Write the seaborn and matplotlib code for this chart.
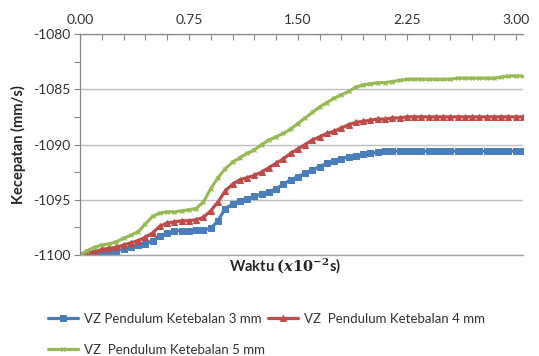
import numpy as np
import pandas as pd
import matplotlib
matplotlib.use("Agg")
import matplotlib.pyplot as plt
from matplotlib.ticker import MultipleLocator, FormatStrFormatter
import seaborn as sns

# Sample times (x10^-2 s)
waktu = np.round(np.arange(0, 3.051, 0.05), 2)

# Vertical velocity VZ (mm/s) per pendulum thickness
vz_3mm = [-1100.0, -1099.9, -1099.8, -1099.7, -1099.6, -1099.6, -1099.5, -1099.3, -1099.1, -1099.0,
          -1098.7, -1098.3, -1098.0, -1097.8, -1097.8, -1097.8, -1097.7, -1097.7, -1097.6, -1096.9,
          -1095.8, -1095.4, -1095.1, -1094.9, -1094.7, -1094.5, -1094.3, -1094.0, -1093.6, -1093.2,
          -1092.9, -1092.6, -1092.3, -1092.0, -1091.7, -1091.5, -1091.3, -1091.1, -1091.0, -1090.9,
          -1090.8, -1090.7, -1090.6, -1090.6, -1090.6, -1090.6, -1090.6, -1090.6, -1090.6, -1090.6,
          -1090.6, -1090.6, -1090.6, -1090.6, -1090.6, -1090.6, -1090.6, -1090.6, -1090.6, -1090.6,
          -1090.6, -1090.6]
vz_4mm = [-1100.0, -1099.9, -1099.7, -1099.5, -1099.4, -1099.3, -1099.1, -1098.9, -1098.7, -1098.4,
          -1098.0, -1097.4, -1097.1, -1097.0, -1096.9, -1096.9, -1096.8, -1096.6, -1096.0, -1095.2,
          -1094.2, -1093.6, -1093.2, -1093.0, -1092.8, -1092.5, -1092.1, -1091.7, -1091.3, -1090.8,
          -1090.4, -1090.0, -1089.6, -1089.3, -1089.0, -1088.8, -1088.5, -1088.2, -1088.0, -1087.9,
          -1087.8, -1087.7, -1087.7, -1087.6, -1087.6, -1087.5, -1087.5, -1087.5, -1087.5, -1087.5,
          -1087.5, -1087.5, -1087.5, -1087.5, -1087.5, -1087.5, -1087.5, -1087.5, -1087.5, -1087.5,
          -1087.5, -1087.5]
vz_5mm = [-1100.0, -1099.6, -1099.3, -1099.1, -1099.0, -1098.8, -1098.5, -1098.2, -1097.9, -1097.2,
          -1096.5, -1096.2, -1096.1, -1096.1, -1096.0, -1095.9, -1095.8, -1095.2, -1094.0, -1093.0,
          -1092.2, -1091.6, -1091.2, -1090.8, -1090.5, -1090.0, -1089.6, -1089.3, -1089.0, -1088.6,
          -1088.1, -1087.6, -1087.1, -1086.6, -1086.2, -1085.8, -1085.5, -1085.2, -1084.8, -1084.6,
          -1084.5, -1084.4, -1084.4, -1084.3, -1084.2, -1084.1, -1084.1, -1084.1, -1084.1, -1084.1,
          -1084.1, -1084.1, -1084.0, -1084.0, -1084.0, -1084.0, -1084.0, -1084.0, -1083.9, -1083.8,
          -1083.8, -1083.8]

labels = ["VZ Pendulum Ketebalan 3 mm",
          "VZ  Pendulum Ketebalan 4 mm",
          "VZ  Pendulum Ketebalan 5 mm"]
values = [vz_3mm, vz_4mm, vz_5mm]

sns.set_style("white")
plt.rcParams["font.family"] = ["Lato", "DejaVu Sans"]
plt.rcParams["mathtext.fontset"] = "custom"
plt.rcParams["mathtext.rm"] = "DejaVu Serif:bold"
plt.rcParams["mathtext.it"] = "DejaVu Serif:italic:bold"

fig = plt.figure(figsize=(5.39, 3.56), dpi=100)
ax = fig.add_axes([80 / 539, 1 - 255 / 356, 443 / 539, 221 / 356])

styles = [
    dict(color="#4a7ebb", marker="s", markersize=4.2),
    dict(color="#be4b48", marker="^", markersize=3.8),
    dict(color="#98b954", marker="x", markersize=3.4, markeredgewidth=1.0),
]
for lab, v, st in zip(labels, values, styles):
    df = pd.DataFrame({"waktu": waktu, "vz": v})
    sns.lineplot(data=df, x="waktu", y="vz", ax=ax, label=lab, linewidth=2.3,
                 markeredgecolor=st["color"], **st)

ax.set_xlim(0, 3.05)
ax.set_ylim(-1100, -1080)
ax.xaxis.tick_top()
ax.xaxis.set_major_locator(MultipleLocator(0.75))
ax.xaxis.set_minor_locator(MultipleLocator(0.15))
ax.xaxis.set_major_formatter(FormatStrFormatter("%.2f"))
ax.yaxis.set_major_locator(MultipleLocator(5))
ax.yaxis.set_minor_locator(MultipleLocator(2.5))
ax.yaxis.set_major_formatter(FormatStrFormatter("%d"))

ax.tick_params(axis="x", which="both", direction="in", length=4, width=0.8,
               color="#868686", labelsize=10, pad=6, labelcolor="#333333")
ax.tick_params(axis="y", which="both", direction="out", length=4, width=0.8,
               color="#868686", labelsize=10, pad=3, labelcolor="#333333")
ax.tick_params(axis="y", which="both", left=True)

ax.grid(axis="y", which="major", color="#bfbfbf", linewidth=1.0)
ax.set_axisbelow(True)
ax.spines["right"].set_visible(False)
for side in ["left", "top"]:
    ax.spines[side].set_color("#868686")
    ax.spines[side].set_linewidth(0.9)
ax.spines["bottom"].set_color("#a6a6a6")
ax.spines["bottom"].set_linewidth(1.0)

ax.set_xlabel(r"Waktu $(x10^{-2}$s)", fontsize=10.5, fontweight="bold")
ax.xaxis.set_label_position("bottom")
ax.xaxis.set_label_coords((285 - 80) / 443, -0.05)
ax.xaxis.label.set_va("center")
ax.set_ylabel("Kecepatan (mm/s)", fontsize=10.5, fontweight="bold")
ax.yaxis.set_label_coords((18 - 80) / 443, 0.5)
ax.yaxis.label.set_va("center")

handles, labs = ax.get_legend_handles_labels()
ax.get_legend().remove()
order = [0, 2, 1]
fig.legend([handles[i] for i in order], [labs[i] for i in order],
           ncol=2, frameon=False, fontsize=9.5, handlelength=2.3,
           handletextpad=0.45, columnspacing=0.2, labelspacing=1.45,
           loc="upper left", bbox_to_anchor=(36 / 539, 1 - 301 / 356),
           labelcolor="#333333")

fig.savefig("out.png", dpi=100)
